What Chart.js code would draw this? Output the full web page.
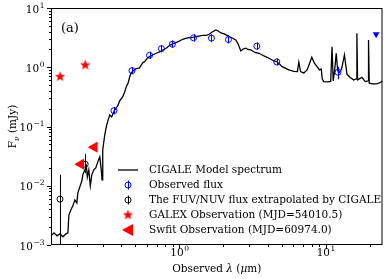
<!DOCTYPE html>
<html>
<head>
<meta charset="utf-8">
<script src="https://cdn.jsdelivr.net/npm/chart.js@4.4.1/dist/chart.umd.min.js"></script>
<style>
  html, body { margin: 0; padding: 0; background: #fff; }
  #wrap { width: 389px; height: 279px; }
</style>
</head>
<body>
<div id="wrap"><canvas id="sed" width="389" height="279"></canvas></div>
<script>
// --- dados (lambda em micron, fluxo em mJy) ---
const specLam = [0.1326, 0.1390, 0.1457, 0.1527, 0.1600, 0.1677, 0.1730, 0.1757, 0.1814, 0.1871,
  0.1931, 0.1992, 0.2023, 0.2088, 0.2154, 0.2188, 0.2258, 0.2312, 0.2349, 0.2404,
  0.2461, 0.2520, 0.2600, 0.2683, 0.2768, 0.2856, 0.2924, 0.2960, 0.2993, 0.3089,
  0.3187, 0.3341, 0.3447, 0.3612, 0.3786, 0.3906, 0.4095, 0.4225, 0.4360, 0.4463,
  0.4570, 0.4692, 0.4813, 0.5021, 0.5342, 0.5601, 0.5779, 0.6057, 0.6251, 0.6551,
  0.6944, 0.7311, 0.7698, 0.8158, 0.8550, 0.8962, 0.9497, 1.0, 1.0530, 1.1335,
  1.2314, 1.3261, 1.4400, 1.5265, 1.5998, 1.6768, 1.7770, 1.8422, 1.9215, 2.0235,
  2.1883, 2.2934, 2.4304, 2.5197, 2.6284, 2.7251, 2.8427, 2.9473, 3.0747, 3.2885,
  3.5012, 3.7861, 4.0944, 4.4296, 4.6650, 5.0444, 5.6013, 6.0570, 6.4000, 6.5496,
  6.7270, 7.0846, 7.4610, 7.7233, 8.0320, 8.3524, 8.7263, 9.0600, 9.3197, 9.4670,
  9.6919, 10.318, 10.814, 11.038, 11.247, 11.516, 11.790, 12.063, 12.254, 12.843,
  13.420, 13.959, 14.566, 15.506, 16.200, 16.327, 16.508, 17.658, 18.629, 19.456,
  19.609, 19.826, 20.877, 22.232, 23.299, 24.430];
const specFlux = [0.001429, 0.001606, 0.001429, 0.001545, 0.001374, 0.001545, 0.001606, 0.003228, 0.003924, 0.004581,
  0.005781, 0.005152, 0.007586, 0.009572, 0.01210, 0.01528, 0.01854, 0.02166, 0.01412, 0.01854,
  0.009954, 0.01528, 0.01854, 0.02004, 0.02530, 0.03072, 0.01854, 0.01256, 0.04027, 0.07211,
  0.1063, 0.1570, 0.1452, 0.1905, 0.2225, 0.2704, 0.3155, 0.3835, 0.4842, 0.5433,
  0.6855, 0.8016, 0.8661, 0.9361, 0.9731, 1.1815, 1.2428, 1.4351, 1.5095, 1.6122,
  1.7224, 1.8113, 1.9571, 2.1161, 2.3321, 2.4717, 2.5989, 2.7769, 2.9660, 3.1199,
  3.2060, 3.3073, 3.4383, 3.4383, 3.6022, 3.9383, 4.2560, 4.0936, 3.7879, 3.6447,
  3.2810, 3.1199, 2.8867, 2.4717, 1.8831, 2.0349, 2.0910, 1.9960, 1.9571, 1.7766,
  1.7224, 1.5509, 1.4186, 1.2773, 1.2285, 1.0235, 0.9004, 0.8495, 0.8429, 1.2143,
  0.8429, 0.8016, 0.9004, 1.1364, 1.4745, 1.1815, 1.0235, 0.9004, 0.9361, 0.6349,
  0.5717, 0.5650, 0.5762, 2.2255, 0.5875, 0.9004, 1.7224, 0.9004, 0.7921, 0.9361,
  1.6122, 0.7709, 0.6863, 0.6108, 0.6349, 3.7446, 0.6108, 0.6730, 0.5717, 0.5875,
  2.8867, 0.5372, 0.5228, 0.5228, 0.5435, 0.5875];

const obsLam  = [0.357, 0.474, 0.625, 0.754, 0.896, 1.249, 1.656, 2.165, 3.38, 4.63, 12.13];
const obsFlux = [0.185, 0.877, 1.59, 2.06, 2.45, 3.14, 3.10, 2.94, 2.27, 1.23, 0.823];
const obsLo   = [0.160, 0.76, 1.38, 1.78, 2.12, 2.70, 2.65, 2.52, 1.96, 1.07, 0.627];
const obsHi   = [0.214, 1.01, 1.83, 2.38, 2.83, 3.64, 3.62, 3.43, 2.63, 1.42, 1.02];

const limLam  = [22.1];
const limFlux = [3.6];

const extLam  = [0.1528, 0.2271];
const extFlux = [0.00594, 0.0231];
const extLo   = [0.0004, 0.0163];
const extHi   = [0.0153, 0.0345];

const galexLam  = [0.1528, 0.2271];
const galexFlux = [0.694, 1.09];

const swiftLam  = [0.212, 0.262];
const swiftFlux = [0.0231, 0.0448];

const xMajor = [1, 10];
const xMinor = [0.2, 0.3, 0.4, 0.5, 0.6, 0.7, 0.8, 0.9, 2, 3, 4, 5, 6, 7, 8, 9, 20];
const yMajor = [0.001, 0.01, 0.1, 1, 10];
const yMajorExp = ['\u22123', '\u22122', '\u22121', '0', '1'];
const xMajorExp = ['0', '1'];
const yMinor = [];
[0.001, 0.01, 0.1, 1].forEach(d => { for (let k = 2; k <= 9; k++) yMinor.push(d * k); });

const legendTexts = [
  'CIGALE Model spectrum',
  'Observed flux',
  'The FUV/NUV flux extrapolated by CIGALE',
  'GALEX Observation (MJD=54010.5)',
  'Swfit Observation (MJD=60974.0)'
];

const AZUL = '#0000ff';
const VERMELHO = '#ff0000';
const FONTE = '"DejaVu Serif", serif';

// estrela preenchida para o GALEX
function fazerEstrela(r) {
  const c = document.createElement('canvas');
  const s = Math.ceil(r * 2 + 2);
  c.width = s; c.height = s;
  const g = c.getContext('2d');
  g.fillStyle = VERMELHO;
  g.beginPath();
  for (let i = 0; i < 10; i++) {
    const ang = -Math.PI / 2 + i * Math.PI / 5;
    const rr = i % 2 === 0 ? r : r * 0.42;
    g.lineTo(s / 2 + rr * Math.cos(ang), s / 2 + rr * Math.sin(ang));
  }
  g.closePath();
  g.fill();
  return c;
}
const estrela = fazerEstrela(5.5);

const pts = (xs, ys) => xs.map((v, i) => ({ x: v, y: ys[i] }));

// desenha "10" com expoente
function potencia(ctx, exp, x, y, align) {
  ctx.font = '10.5px ' + FONTE;
  const wb = ctx.measureText('10').width;
  ctx.font = '7.5px ' + FONTE;
  const we = ctx.measureText(exp).width;
  const x0 = align === 'right' ? x - wb - we : x - (wb + we) / 2;
  ctx.textAlign = 'left';
  ctx.textBaseline = 'alphabetic';
  ctx.font = '10.5px ' + FONTE;
  ctx.fillText('10', x0, y);
  ctx.font = '7.5px ' + FONTE;
  ctx.fillText(exp, x0 + wb + 0.5, y - 5);
}

function errBar(ctx, x, y, lam, lo, hi, cor) {
  ctx.strokeStyle = cor;
  ctx.lineWidth = 1;
  lam.forEach((l, i) => {
    const px = Math.round(x.getPixelForValue(l)) + 0.5;
    ctx.beginPath();
    ctx.moveTo(px, y.getPixelForValue(lo[i]));
    ctx.lineTo(px, y.getPixelForValue(hi[i]));
    ctx.stroke();
  });
}

const enfeites = {
  id: 'enfeites',
  afterDatasetsDraw(chart) {
    const { ctx, chartArea: a, scales: { x, y } } = chart;

    // barras de erro
    ctx.save();
    ctx.beginPath();
    ctx.rect(a.left, a.top, a.right - a.left, a.bottom - a.top);
    ctx.clip();
    errBar(ctx, x, y, obsLam, obsLo, obsHi, AZUL);
    errBar(ctx, x, y, extLam, extLo, extHi, '#000');
    ctx.restore();

    ctx.save();
    // moldura
    ctx.strokeStyle = '#000';
    ctx.lineWidth = 1;
    ctx.strokeRect(a.left + 0.5, a.top + 0.5, a.right - a.left - 1, a.bottom - a.top - 1);

    // marcas dos eixos
    ctx.beginPath();
    xMajor.concat(xMinor).forEach(v => {
      const px = Math.round(x.getPixelForValue(v)) + 0.5;
      const len = xMajor.includes(v) ? 4 : 2;
      ctx.moveTo(px, a.bottom);
      ctx.lineTo(px, a.bottom + len);
    });
    yMajor.concat(yMinor).forEach(v => {
      const py = Math.round(y.getPixelForValue(v)) + 0.5;
      const len = yMajor.includes(v) ? 4 : 2;
      ctx.moveTo(a.left, py);
      ctx.lineTo(a.left - len, py);
    });
    ctx.stroke();

    // rótulos
    ctx.fillStyle = '#000';
    xMajor.forEach((v, i) => potencia(ctx, xMajorExp[i], x.getPixelForValue(v), a.bottom + 11, 'center'));
    yMajor.forEach((v, i) => potencia(ctx, yMajorExp[i], a.left - 7, y.getPixelForValue(v) + 4.5, 'right'));

    // título do eixo x
    ctx.textBaseline = 'alphabetic';
    const partes = [['Observed ', ''], ['\u03bb', 'italic '], [' (', ''], ['\u03bc', 'italic '], ['m)', '']];
    let larg = 0;
    partes.forEach(p => { ctx.font = p[1] + '10.5px ' + FONTE; larg += ctx.measureText(p[0]).width; });
    let cx = (a.left + a.right) / 2 - larg / 2;
    partes.forEach(p => {
      ctx.font = p[1] + '10.5px ' + FONTE;
      ctx.fillText(p[0], cx, 272);
      cx += ctx.measureText(p[0]).width;
    });

    // título do eixo y
    ctx.save();
    ctx.translate(16, (a.top + a.bottom) / 2);
    ctx.rotate(-Math.PI / 2);
    ctx.font = '10.5px ' + FONTE;
    const wF = ctx.measureText('F').width;
    ctx.font = 'italic 7.5px ' + FONTE;
    const wNu = ctx.measureText('\u03bd').width;
    ctx.font = '10.5px ' + FONTE;
    const wR = ctx.measureText(' (mJy)').width;
    let sx = -(wF + wNu + wR) / 2;
    ctx.fillText('F', sx, 0);
    ctx.font = 'italic 7.5px ' + FONTE;
    ctx.fillText('\u03bd', sx + wF, 2.5);
    ctx.font = '10.5px ' + FONTE;
    ctx.fillText(' (mJy)', sx + wF + wNu, 0);
    ctx.restore();

    // (a)
    ctx.font = '13px ' + FONTE;
    ctx.textBaseline = 'middle';
    ctx.fillText('(a)', a.left + 10, a.top + 21);

    // legenda
    const lx = 128, tx = 149, y0 = 170, dy = 15;
    ctx.font = '10.5px ' + FONTE;
    legendTexts.forEach((t, i) => {
      ctx.fillStyle = '#000';
      ctx.textBaseline = 'middle';
      ctx.fillText(t, tx, y0 + i * dy + 0.5);
    });
    // linha do modelo
    ctx.strokeStyle = '#000';
    ctx.lineWidth = 1.3;
    ctx.beginPath();
    ctx.moveTo(lx - 10, y0); ctx.lineTo(lx + 10, y0);
    ctx.stroke();
    // círculos com barra
    [[AZUL, 1], ['#000', 2]].forEach(([cor, i]) => {
      const yy = y0 + i * dy;
      ctx.strokeStyle = cor;
      ctx.lineWidth = 1;
      ctx.beginPath(); ctx.arc(lx, yy, 3, 0, Math.PI * 2); ctx.stroke();
      ctx.beginPath(); ctx.moveTo(lx + 0.5, yy - 4.5); ctx.lineTo(lx + 0.5, yy + 4.5); ctx.stroke();
    });
    ctx.drawImage(estrela, lx - estrela.width / 2, y0 + 3 * dy - estrela.height / 2);
    ctx.fillStyle = VERMELHO;
    ctx.beginPath();
    ctx.moveTo(lx - 6, y0 + 4 * dy);
    ctx.lineTo(lx + 5, y0 + 4 * dy - 6);
    ctx.lineTo(lx + 5, y0 + 4 * dy + 6);
    ctx.closePath();
    ctx.fill();
    ctx.restore();
  }
};

new Chart(document.getElementById('sed'), {
  type: 'scatter',
  data: {
    datasets: [
      {
        label: 'CIGALE Model spectrum',
        data: pts(specLam, specFlux),
        showLine: true,
        borderColor: '#000',
        borderWidth: 1.3,
        pointRadius: 0,
        tension: 0,
        order: 10
      },
      {
        label: 'Observed flux',
        data: pts(obsLam, obsFlux),
        pointStyle: 'circle',
        pointRadius: 3,
        borderColor: AZUL,
        backgroundColor: 'rgba(0,0,0,0)',
        borderWidth: 1,
        order: 2
      },
      {
        label: 'W4 limit',
        data: pts(limLam, limFlux),
        pointStyle: 'triangle',
        rotation: 180,
        pointRadius: 4,
        borderColor: AZUL,
        backgroundColor: AZUL,
        borderWidth: 0,
        order: 2
      },
      {
        label: 'The FUV/NUV flux extrapolated by CIGALE',
        data: pts(extLam, extFlux),
        pointStyle: 'circle',
        pointRadius: 3,
        borderColor: '#000',
        backgroundColor: 'rgba(0,0,0,0)',
        borderWidth: 1,
        order: 2
      },
      {
        label: 'GALEX Observation (MJD=54010.5)',
        data: pts(galexLam, galexFlux),
        pointStyle: estrela,
        order: 1
      },
      {
        label: 'Swfit Observation (MJD=60974.0)',
        data: pts(swiftLam, swiftFlux),
        pointStyle: 'triangle',
        rotation: 270,
        pointRadius: 6.5,
        borderWidth: 0,
        borderColor: VERMELHO,
        backgroundColor: VERMELHO,
        order: 1
      }
    ]
  },
  options: {
    responsive: false,
    animation: false,
    devicePixelRatio: 1,
    layout: { padding: { left: 0, top: 8, right: 5, bottom: 0 } },
    plugins: { legend: { display: false }, tooltip: { enabled: false } },
    scales: {
      x: {
        type: 'logarithmic',
        min: 0.1326,
        max: 24.43,
        afterBuildTicks: s => { s.ticks = xMajor.map(v => ({ value: v })); },
        afterFit: s => { s.height = 34; },
        ticks: { display: false },
        grid: { display: false },
        border: { display: false }
      },
      y: {
        type: 'logarithmic',
        min: 0.001,
        max: 10,
        afterBuildTicks: s => { s.ticks = yMajor.map(v => ({ value: v })); },
        afterFit: s => { s.width = 51; },
        ticks: { display: false },
        grid: { display: false },
        border: { display: false }
      }
    }
  },
  plugins: [enfeites]
});
</script>
</body>
</html>
